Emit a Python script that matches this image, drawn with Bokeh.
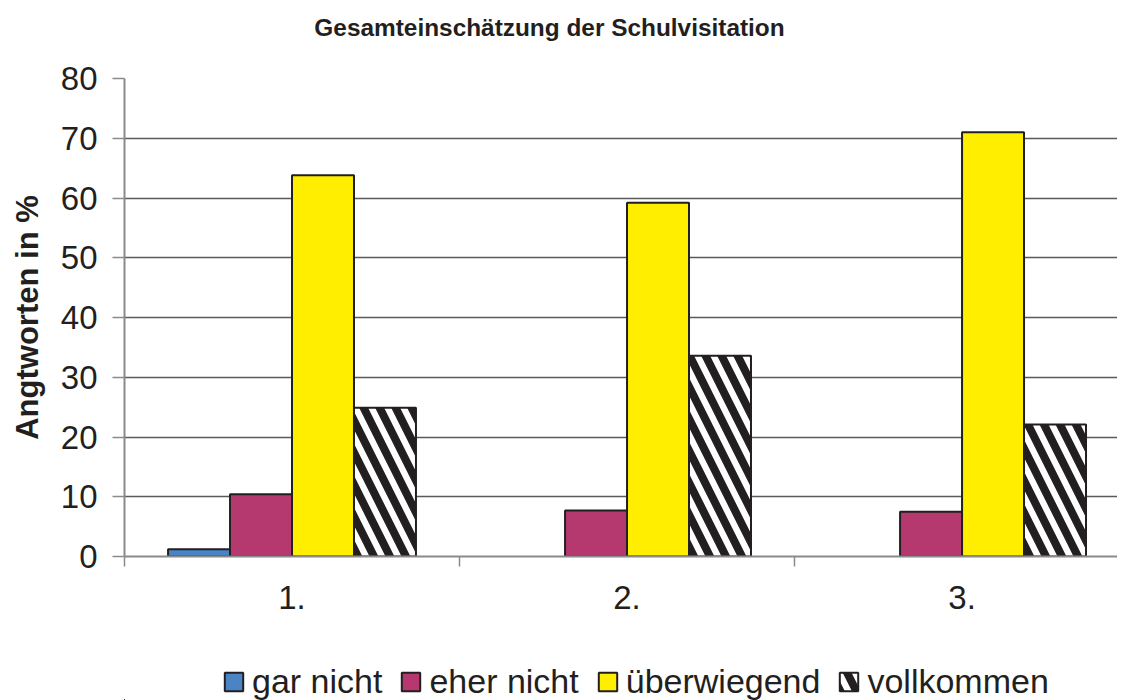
from bokeh.plotting import figure
from bokeh.layouts import column
from bokeh.models import (ColumnDataSource, Range1d, FixedTicker, Legend, LegendItem,
                          CDSView, BooleanFilter, Label)
from bokeh.transform import dodge
from bokeh.embed import file_html
from bokeh.resources import INLINE

# ---- data ----
categories = ["1.", "2.", "3."]
series = ["gar nicht", "eher nicht", "überwiegend", "vollkommen"]
gar_nicht = [1.2, 0.0, 0.0]
eher_nicht = [10.4, 7.7, 7.5]
ueberwiegend = [63.8, 59.2, 71.0]
vollkommen = [24.9, 33.6, 22.1]
y_ticks = [0, 10, 20, 30, 40, 50, 60, 70, 80]
title_text = "Gesamteinschätzung der Schulvisitation"
y_label = "Angtworten in %"

FONT = "Liberation Sans"
INK = "#231f20"
W = 1117
LEFT = 124          # frame left edge shared by all stacked figures
fills = ["#4a84c4", "#b5396f", "#ffee00", "white"]
cols = ["g", "e", "u", "v"]


def styled(kw, i):
    kw.update(fill_color=fills[i], line_color=INK, line_width=2)
    if i == 3:
        kw.update(hatch_pattern="\\", hatch_color=INK, hatch_scale=32, hatch_weight=8)
    return kw


xpos = [i + 0.5 for i in range(len(categories))]
src = ColumnDataSource(dict(x=xpos, cat=categories, g=gar_nicht, e=eher_nicht,
                            u=ueberwiegend, v=vollkommen))

# ---- title strip ----
TH = 50
t = figure(width=W, height=TH, x_range=Range1d(LEFT, W), y_range=Range1d(0, TH),
           output_backend="svg", toolbar_location=None, min_border=0,
           min_border_left=LEFT, x_axis_location=None, y_axis_location=None,
           outline_line_color=None)
t.grid.grid_line_color = None
t.add_layout(Label(x=549, y=TH - 27, text=title_text, text_font=FONT,
                   text_font_style="bold", text_font_size="24.4px", text_color=INK,
                   text_align="center", text_baseline="middle"))

# ---- main chart ----
p = figure(width=W, height=590,
           x_range=Range1d(0, 2.964), y_range=Range1d(0, 80),
           output_backend="svg", toolbar_location=None,
           min_border_left=LEFT, min_border_right=0, min_border_top=28,
           min_border_bottom=84, outline_line_color=None,
           background_fill_color="white", border_fill_color="white")

w = 0.185
for i, c in enumerate(cols):
    kw = dict(x=dodge("x", (i - 1.5) * w, range=p.x_range), top=c, width=w, source=src)
    if c == "g":
        kw["view"] = CDSView(filter=BooleanFilter([v > 0 for v in gar_nicht]))
    p.vbar(**styled(kw, i))

p.yaxis.ticker = FixedTicker(ticks=y_ticks)
p.yaxis.axis_label = y_label
p.yaxis.axis_label_text_font = FONT
p.yaxis.axis_label_text_font_style = "bold"
p.yaxis.axis_label_text_font_size = "31px"
p.yaxis.axis_label_text_color = INK
p.yaxis.axis_label_standoff = 13
p.yaxis.major_label_text_font = FONT
p.yaxis.major_label_text_font_size = "33px"
p.yaxis.major_label_text_color = INK
p.yaxis.major_label_standoff = 15
p.yaxis.major_tick_out = 12
p.yaxis.major_tick_in = 0
p.yaxis.minor_tick_line_color = None
p.yaxis.axis_line_color = "#8a8a8a"
p.yaxis.axis_line_width = 2
p.yaxis.major_tick_line_color = "#8a8a8a"
p.yaxis.major_tick_line_width = 1.5

p.xaxis.ticker = FixedTicker(ticks=xpos, minor_ticks=list(range(len(categories) + 1)))
p.xaxis.major_label_overrides = {x: c for x, c in zip(xpos, categories)}
p.xaxis.major_label_text_font = FONT
p.xaxis.major_label_text_font_size = "33px"
p.xaxis.major_label_text_color = INK
p.xaxis.major_tick_out = 0
p.xaxis.major_tick_in = 0
p.xaxis.minor_tick_out = 10
p.xaxis.minor_tick_in = 0
p.xaxis.minor_tick_line_color = "#8a8a8a"
p.xaxis.minor_tick_line_width = 1.5
p.xaxis.major_label_standoff = 19
p.xaxis.axis_line_color = "#8a8a8a"
p.xaxis.axis_line_width = 2

p.xgrid.grid_line_color = None
p.ygrid.ticker = FixedTicker(ticks=y_ticks)
p.ygrid.grid_line_color = "#5a5a5a"
p.ygrid.grid_line_width = 1.5

# ---- legend strip (its view is far away from the bars, only the legend shows) ----
LH = 60
lg = figure(width=W, height=LH, x_range=Range1d(100, 103), y_range=Range1d(1000, 1001),
            output_backend="svg", toolbar_location=None, min_border=0,
            min_border_left=LEFT, x_axis_location=None, y_axis_location=None,
            outline_line_color=None)
lg.grid.grid_line_color = None
leg_renderers = [lg.vbar(**styled(dict(x=dodge("x", (i - 1.5) * w, range=lg.x_range),
                                        top=c, width=w, source=src), i))
                 for i, c in enumerate(cols)]
items = [LegendItem(label=s, renderers=[r]) for s, r in zip(series, leg_renderers)]
legend = Legend(items=items, orientation="horizontal", location=(222 - LEFT, -1),
                label_text_font=FONT, label_text_font_size="34px", label_text_color=INK,
                glyph_width=23, glyph_height=23, label_standoff=7, spacing=17,
                padding=0, margin=0, border_line_color=None, background_fill_alpha=0)
lg.add_layout(legend, "center")

layout = column(t, p, lg, spacing=0)
open("out.html", "w").write(file_html(layout, INLINE))
